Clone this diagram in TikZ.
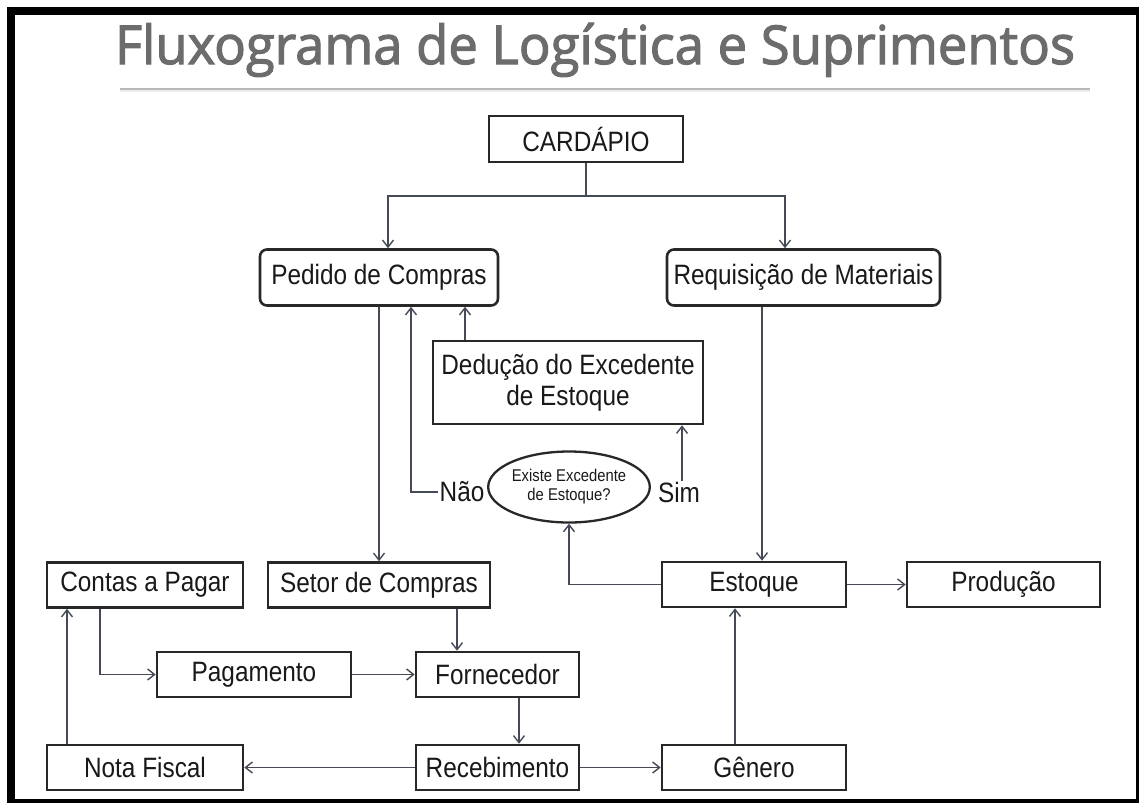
\documentclass[tikz,border=0pt]{standalone}
\usepackage{fontspec}
\usetikzlibrary{arrows.meta,shapes.geometric,calc}
\newfontfamily\narrowfont{Liberation Sans}[FakeStretch=0.87]
\newfontfamily\titlefont{Open Sans}[FakeBold=2.2]
\definecolor{boxc}{RGB}{40,40,40}
\definecolor{linec}{RGB}{70,74,86}
\definecolor{textc}{RGB}{25,25,25}
\definecolor{titlegray}{RGB}{108,108,108}
\begin{document}
\begin{tikzpicture}[x=1pt,y=-1pt,
  box/.style={draw=boxc,line width=2.6pt,inner sep=0pt,text=textc,
    font=\narrowfont\fontsize{28}{31}\selectfont,align=center},
  rbox/.style={box,rounded corners=7pt},
  ebox/.style={draw=boxc,line width=2.3pt,ellipse,inner sep=0pt,text=textc,
    font=\narrowfont\fontsize{17}{19}\selectfont,align=center},
  lbl/.style={inner sep=1pt,text=textc,font=\narrowfont\fontsize{28}{31}\selectfont},
  arr/.style={draw=linec,line width=1.5pt,-{Straight Barb[length=7pt,width=11pt,line width=1.4pt]}}
]
\useasboundingbox (0,0) rectangle (1139,803);
\fill[white] (0,0) rectangle (1139,803);
% frame
\fill[black] (7,7) rectangle (1139,15);
\fill[black] (7,7) rectangle (15,803);
\fill[black] (1136,7) rectangle (1139,803);
\fill[black] (7,799) rectangle (1139,803);
% title
\node[text=titlegray,inner sep=0pt,anchor=base] (title) at (595,64)
  {\resizebox{960pt}{41pt}{\titlefont Fluxograma de Logística e Suprimentos}};
\draw[gray!15,line width=2pt] (120,91) -- (1090,91);
\draw[gray!55,line width=2pt] (120,88.5) -- (1090,88.5);
% nodes
\node[box,minimum width=194pt,minimum height=46pt] (card) at (586,139) {CARDÁPIO};
\node[rbox,minimum width=238pt,minimum height=56pt] (ped) at (379,277.5) {Pedido de Compras};
\node[rbox,minimum width=273pt,minimum height=56pt] (req) at (803.5,277.5) {Requisição de Materiais};
\node[box,minimum width=270pt,minimum height=83pt] (ded) at (568,382.5) {Dedução do Excedente\\de Estoque};
\node[ebox,minimum width=150pt,minimum height=71pt] (ell) at (569,487) {Existe Excedente\\de Estoque?};
\node[lbl] (nao) at (462,492) {Não};
\node[lbl] (sim) at (679,492) {Sim};
\node[box,minimum width=196pt,minimum height=45pt] (contas) at (145,585) {Contas a Pagar};
\node[box,minimum width=222pt,minimum height=45pt] (setor) at (379,585) {Setor de Compras};
\node[box,minimum width=184pt,minimum height=45pt] (estq) at (754,584.5) {Estoque};
\node[box,minimum width=193pt,minimum height=45pt] (prod) at (1003.5,584.5) {Produção};
\node[box,minimum width=194pt,minimum height=45pt] (pag) at (254,674.5) {Pagamento};
\node[box,minimum width=163pt,minimum height=45pt] (forn) at (497.5,674.5) {Fornecedor};
\node[box,minimum width=196pt,minimum height=45pt] (nota) at (145,767.5) {Nota Fiscal};
\node[box,minimum width=163pt,minimum height=45pt] (rec) at (497.5,767.5) {Recebimento};
\node[box,minimum width=184pt,minimum height=45pt] (gen) at (754,767.5) {Gênero};
% helper coordinates
\coordinate (jL) at (388,196);
\coordinate (jR) at (785,196);
\coordinate (xn) at (411,0);
\coordinate (xd) at (465,0);
\coordinate (xr) at (762,0);
\coordinate (xs2) at (682,0);
\coordinate (xg) at (735,0);
\coordinate (xc) at (67,0);
\coordinate (xp) at (100,0);
\coordinate (xs) at (457,0);
\coordinate (xf) at (519,0);
% connectors
\draw[arr] (card.south) |- (jL) -- (jL |- ped.north);
\draw[arr] (card.south) |- (jR) -- (jR |- req.north);
\draw[arr] (ped.south) -- (setor.north);
\draw[arr] (nao.west) -| (xn |- ped.south);
\draw[arr] (xd |- ded.north) -- (xd |- ped.south);
\draw[arr] (xs2 |- sim.north) -- (xs2 |- ded.south);
\draw[arr] (xr |- req.south) -- (xr |- estq.north);
\draw[arr] (estq.west) -| (ell.south);
\draw[arr] (estq.east) -- (prod.west);
\draw[arr] (xg |- gen.north) -- (xg |- estq.south);
\draw[arr] (rec.east) -- (gen.west);
\draw[arr] (rec.west) -- (nota.east);
\draw[arr] (xc |- nota.north) -- (xc |- contas.south);
\draw[arr] (xp |- contas.south) |- (pag.west);
\draw[arr] (pag.east) -- (forn.west);
\draw[arr] (xs |- setor.south) -- (xs |- forn.north);
\draw[arr] (xf |- forn.south) -- (xf |- rec.north);
\end{tikzpicture}
\end{document}
